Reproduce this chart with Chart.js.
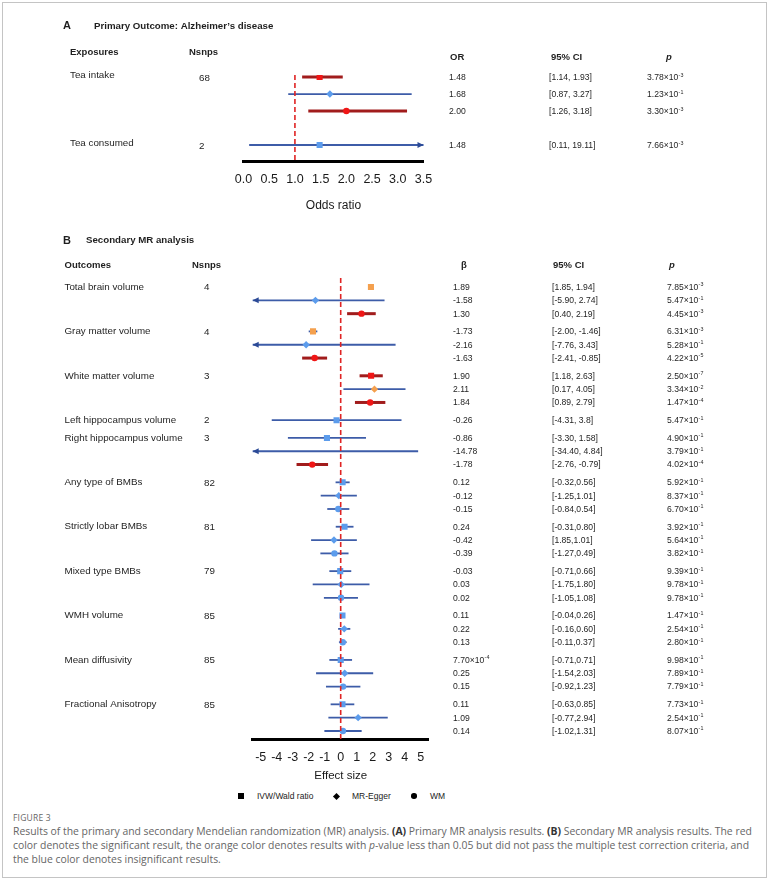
<!DOCTYPE html>
<html>
<head>
<meta charset="utf-8">
<script src="https://cdn.jsdelivr.net/npm/chart.js@4.4.1/dist/chart.umd.min.js"></script>
<style>
  body { margin: 0; width: 769px; height: 883px; position: relative; overflow: hidden; background: #fff;
         font-family: "Liberation Sans", Arial, sans-serif; }
  .frame { position: absolute; left: 2px; top: 2px; width: 763px; height: 874px; border: 1px solid #c4c4c4; }
  canvas { position: absolute; left: 0; }
  #chartA { top: 0; }
  #chartB { top: 228px; }
  .leg { position: absolute; top: 796px; transform: translateY(-50%); font-size: 8.5px; color: #222; white-space: nowrap; }
  .mk { position: absolute; top: 796px; background: #000; }
  .figno { position: absolute; left: 13px; top: 812px; font-family: "Open Sans", sans-serif; font-size: 8.5px;
           color: #666; letter-spacing: 0.2px; }
  .cap { position: absolute; left: 13px; top: 824px; font-family: "Open Sans", sans-serif; font-size: 10.4px;
         line-height: 14px; color: #666; white-space: nowrap; }
  .cap b { color: #333; }
</style>
</head>
<body>
<div class="frame"></div>
<canvas id="chartA" width="769" height="216" style="width:769px;height:216px"></canvas>
<canvas id="chartB" width="769" height="557" style="width:769px;height:557px"></canvas>
<div id="legend"></div>
<div class="figno">FIGURE 3</div>
<div class="cap">Results of the primary and secondary Mendelian randomization (MR) analysis. <b>(A)</b> Primary MR analysis results. <b>(B)</b> Secondary MR analysis results. The red<br>color denotes the significant result, the orange color denotes results with <i>p</i>-value less than 0.05 but did not pass the multiple test correction criteria, and<br>the blue color denotes insignificant results.</div>

<script>
// methods, in the order of rows inside each group
const METHODS = ['IVW', 'Egger', 'WM'];
const methodNames = ['IVW/Wald ratio', 'MR-Egger', 'WM'];

// panel A: primary outcome, Alzheimer's disease
const exposures = ['Tea intake', 'Tea consumed'];
const exposureSnps = ['68', '2'];
const aGroup = [0, 0, 0, 1];
const aMethod = ['IVW', 'Egger', 'WM', 'IVW'];
const aOR = [1.48, 1.68, 2.00, 1.48];
const aLow = [1.14, 0.87, 1.26, 0.11];
const aHigh = [1.93, 3.27, 3.18, 19.11];
const aSig = ['sig', 'ns', 'sig', 'ns'];
const aORText = ['1.48', '1.68', '2.00', '1.48'];
const aCIText = ['[1.14, 1.93]', '[0.87, 3.27]', '[1.26, 3.18]', '[0.11, 19.11]'];
const aPText = ['3.78×10^-3', '1.23×10^-1', '3.30×10^-3', '7.66×10^-3'];
const orTicks = [0, 0.5, 1, 1.5, 2, 2.5, 3, 3.5];

// panel B: secondary MR analysis
const outcomes = ['Total brain volume', 'Gray matter volume', 'White matter volume', 'Left hippocampus volume',
  'Right hippocampus volume', 'Any type of BMBs', 'Strictly lobar BMBs', 'Mixed type BMBs', 'WMH volume',
  'Mean diffusivity', 'Fractional Anisotropy'];
const outcomeSnps = ['4', '4', '3', '2', '3', '82', '81', '79', '85', '85', '85'];
const bGroup = [0, 0, 0, 1, 1, 1, 2, 2, 2, 3, 4, 4, 4, 5, 5, 5, 6, 6, 6, 7, 7, 7, 8, 8, 8, 9, 9, 9, 10, 10, 10];
const bMethod = ['IVW', 'Egger', 'WM', 'IVW', 'Egger', 'WM', 'IVW', 'Egger', 'WM', 'IVW',
  'IVW', 'Egger', 'WM', 'IVW', 'Egger', 'WM', 'IVW', 'Egger', 'WM', 'IVW', 'Egger', 'WM',
  'IVW', 'Egger', 'WM', 'IVW', 'Egger', 'WM', 'IVW', 'Egger', 'WM'];
const bBeta = [1.89, -1.58, 1.30, -1.73, -2.16, -1.63, 1.90, 2.11, 1.84, -0.26,
  -0.86, -14.78, -1.78, 0.12, -0.12, -0.15, 0.24, -0.42, -0.39, -0.03, 0.03, 0.02,
  0.11, 0.22, 0.13, 0.00077, 0.25, 0.15, 0.11, 1.09, 0.14];
const bLow = [1.85, -5.90, 0.40, -2.00, -7.76, -2.41, 1.18, 0.17, 0.89, -4.31,
  -3.30, -34.40, -2.76, -0.32, -1.25, -0.84, -0.31, -1.85, -1.27, -0.71, -1.75, -1.05,
  -0.04, -0.16, -0.11, -0.71, -1.54, -0.92, -0.63, -0.77, -1.02];
const bHigh = [1.94, 2.74, 2.19, -1.46, 3.43, -0.85, 2.63, 4.05, 2.79, 3.8,
  1.58, 4.84, -0.79, 0.56, 1.01, 0.54, 0.80, 1.01, 0.49, 0.66, 1.80, 1.08,
  0.26, 0.60, 0.37, 0.71, 2.03, 1.23, 0.85, 2.94, 1.31];
const bSig = ['nom', 'ns', 'sig', 'nom', 'ns', 'sig', 'sig', 'nom', 'sig', 'ns',
  'ns', 'ns', 'sig', 'ns', 'ns', 'ns', 'ns', 'ns', 'ns', 'ns', 'ns', 'ns',
  'ns', 'ns', 'ns', 'ns', 'ns', 'ns', 'ns', 'ns', 'ns'];
const bBetaText = ['1.89', '-1.58', '1.30', '-1.73', '-2.16', '-1.63', '1.90', '2.11', '1.84', '-0.26',
  '-0.86', '-14.78', '-1.78', '0.12', '-0.12', '-0.15', '0.24', '-0.42', '-0.39', '-0.03', '0.03', '0.02',
  '0.11', '0.22', '0.13', '7.70×10^-4', '0.25', '0.15', '0.11', '1.09', '0.14'];
const bCIText = ['[1.85, 1.94]', '[-5.90, 2.74]', '[0.40, 2.19]', '[-2.00, -1.46]', '[-7.76, 3.43]', '[-2.41, -0.85]',
  '[1.18, 2.63]', '[0.17, 4.05]', '[0.89, 2.79]', '[-4.31, 3.8]', '[-3.30, 1.58]', '[-34.40, 4.84]', '[-2.76, -0.79]',
  '[-0.32,0.56]', '[-1.25,1.01]', '[-0.84,0.54]', '[-0.31,0.80]', '[1.85,1.01]', '[-1.27,0.49]',
  '[-0.71,0.66]', '[-1.75,1.80]', '[-1.05,1.08]', '[-0.04,0.26]', '[-0.16,0.60]', '[-0.11,0.37]',
  '[-0.71,0.71]', '[-1.54,2.03]', '[-0.92,1.23]', '[-0.63,0.85]', '[-0.77,2.94]', '[-1.02,1.31]'];
const bPText = ['7.85×10^-3', '5.47×10^-1', '4.45×10^-3', '6.31×10^-3', '5.28×10^-1', '4.22×10^-5',
  '2.50×10^-7', '3.34×10^-2', '1.47×10^-4', '5.47×10^-1', '4.90×10^-1', '3.79×10^-1', '4.02×10^-4',
  '5.92×10^-1', '8.37×10^-1', '6.70×10^-1', '3.92×10^-1', '5.64×10^-1', '3.82×10^-1',
  '9.39×10^-1', '9.78×10^-1', '9.78×10^-1', '1.47×10^-1', '2.54×10^-1', '2.80×10^-1',
  '9.98×10^-1', '7.89×10^-1', '7.79×10^-1', '7.73×10^-1', '2.54×10^-1', '8.07×10^-1'];
const effectTicks = [-5, -4, -3, -2, -1, 0, 1, 2, 3, 4, 5];

// styles
const FONT = '"Liberation Sans", Arial, sans-serif';
const TXT = '#1f1f1f';
const pointColour = { sig: '#f01616', nom: '#f4a04e', ns: '#5c9cec' };
const lineColour = { sig: '#a11c1c', nom: '#3d5ca8', ns: '#3d5ca8' };
const lineW = { sig: 3, nom: 1.8, ns: 1.8 };
const pointStyle = { IVW: 'rect', Egger: 'rectRot', WM: 'circle' };
const pointSize = { IVW: 4.3, Egger: 3.7, WM: 3.2 };

function rowPositions(groups, gap) {
  let prev = -1, p = -1;
  return groups.map(g => {
    p += 1 + (prev >= 0 && g !== prev ? gap : 0);
    prev = g;
    return p;
  });
}

function txt(ctx, s, x, y, size, opts = {}) {
  ctx.font = (opts.style || '') + ' ' + size + 'px ' + FONT;
  ctx.textAlign = opts.align || 'left';
  ctx.textBaseline = 'middle';
  ctx.fillStyle = opts.color || TXT;
  ctx.fillText(s, x, y);
}

// numbers like 3.78×10^-3 -> superscript exponent
function sciText(ctx, s, x, y, size) {
  const parts = s.split('^');
  txt(ctx, parts[0], x, y, size);
  if (parts.length > 1) {
    const w = ctx.measureText(parts[0]).width;
    txt(ctx, parts[1], x + w + 0.3, y - size * 0.3, size * 0.62);
  }
}

function arrowHead(ctx, x, y, dir, colour) {
  ctx.fillStyle = colour;
  ctx.beginPath();
  ctx.moveTo(x, y);
  ctx.lineTo(x - dir * 6, y - 3);
  ctx.lineTo(x - dir * 6, y + 3);
  ctx.closePath();
  ctx.fill();
}

function forestChart(canvasId, cfg) {
  const pos = rowPositions(cfg.group, cfg.gap);

  const datasets = METHODS.map((m, k) => {
    const idx = cfg.method.map((mm, i) => mm === m ? i : -1).filter(i => i >= 0);
    return {
      label: methodNames[k],
      data: idx.map(i => ({ x: cfg.est[i], y: pos[i] })),
      pointStyle: pointStyle[m],
      pointRadius: pointSize[m],
      pointBackgroundColor: idx.map(i => pointColour[cfg.sig[i]]),
      pointBorderWidth: 0
    };
  });

  const forest = {
    id: 'forest' + canvasId,
    beforeDatasetsDraw(chart) {
      const { ctx, scales: { x, y } } = chart;
      ctx.save();
      cfg.est.forEach((_, i) => {
        const py = y.getPixelForValue(pos[i]);
        const x1 = x.getPixelForValue(Math.max(cfg.low[i], x.min));
        const x2 = x.getPixelForValue(Math.min(cfg.high[i], x.max));
        ctx.strokeStyle = lineColour[cfg.sig[i]];
        ctx.lineWidth = lineW[cfg.sig[i]];
        ctx.beginPath();
        ctx.moveTo(x1, py);
        ctx.lineTo(x2, py);
        ctx.stroke();
        if (cfg.low[i] < x.min) arrowHead(ctx, x1, py, -1, '#2b4a96');
        if (cfg.high[i] > x.max) arrowHead(ctx, x2, py, 1, '#2b4a96');
      });
      ctx.restore();
    },
    afterDatasetsDraw(chart) {
      const { ctx, chartArea, scales: { x } } = chart;
      const px = x.getPixelForValue(cfg.ref);
      ctx.save();
      ctx.strokeStyle = '#e02424';
      ctx.lineWidth = 1.6;
      ctx.setLineDash([5, 3]);
      ctx.beginPath();
      ctx.moveTo(px, chartArea.top);
      ctx.lineTo(px, chartArea.bottom);
      ctx.stroke();
      ctx.restore();
    },
    afterDraw(chart) {
      const { ctx, scales: { y } } = chart;
      const c = cfg.cols;
      ctx.save();
      txt(ctx, cfg.letter, c.letter, c.titleY, 11, { style: 'bold' });
      txt(ctx, cfg.title, c.title, c.titleY, 9.7, { style: 'bold' });
      cfg.headers.forEach(h => txt(ctx, h.text, h.x, h.y, 9.5, { style: h.style || 'bold', align: h.align }));
      let prev = -1;
      cfg.est.forEach((_, i) => {
        const py = y.getPixelForValue(pos[i]);
        const g = cfg.group[i];
        if (g !== prev) {
          txt(ctx, cfg.labels[g], c.label, py + c.labelDy, 9.8);
          txt(ctx, cfg.snps[g], c.snps, py + c.valDy, 9.8);
          prev = g;
        }
        sciText(ctx, cfg.estText[i], c.est, py + c.valDy, 8.6);
        txt(ctx, cfg.ciText[i], c.ci, py + c.valDy, 8.6);
        sciText(ctx, cfg.pText[i], c.p, py + c.valDy, 8.6);
      });
      ctx.restore();
    }
  };

  return new Chart(document.getElementById(canvasId), {
    type: 'scatter',
    data: { datasets },
    plugins: [forest],
    options: {
      responsive: false,
      animation: false,
      events: [],
      layout: { padding: cfg.padding },
      plugins: { legend: { display: false }, tooltip: { enabled: false } },
      scales: {
        x: {
          type: 'linear',
          min: cfg.xMin,
          max: cfg.xMax,
          grid: { display: false },
          border: { display: true, color: '#000', width: 3 },
          afterBuildTicks: s => { s.ticks = cfg.ticks.map(v => ({ value: v })); },
          afterFit: s => { s.height = cfg.axisH; },
          ticks: {
            padding: cfg.tickPad,
            color: '#1a1a1a',
            font: { family: FONT, size: 12.5 },
            maxRotation: 0,
            callback: cfg.tickFmt
          },
          title: {
            display: true,
            text: cfg.axisTitle,
            color: '#1a1a1a',
            font: { family: FONT, size: cfg.titleSize },
            padding: { top: 0, bottom: cfg.titlePad }
          }
        },
        y: { type: 'linear', display: false, reverse: true, min: cfg.yMin, max: cfg.yMax }
      }
    }
  });
}

forestChart('chartA', {
  group: aGroup, method: aMethod, est: aOR, low: aLow, high: aHigh, sig: aSig,
  estText: aORText, ciText: aCIText, pText: aPText, labels: exposures, snps: exposureSnps,
  gap: 1, ref: 1, xMin: 0, xMax: 3.5, yMin: -0.12, yMax: 4.94, ticks: orTicks,
  tickFmt: v => v.toFixed(1), axisTitle: 'Odds ratio', titleSize: 12,
  padding: { left: 243.5, right: 345.5, top: 75, bottom: 0 },
  axisH: 55, tickPad: 3, titlePad: 3.5,
  letter: 'A', title: 'Primary Outcome: Alzheimer\u2019s disease',
  cols: { letter: 63, title: 94, titleY: 26, label: 70, labelDy: -2, snps: 199, est: 449, ci: 549, p: 647, valDy: 1 },
  headers: [
    { text: 'Exposures', x: 70, y: 52 }, { text: 'Nsnps', x: 189, y: 52 },
    { text: 'OR', x: 450, y: 57 }, { text: '95% CI', x: 551, y: 57 },
    { text: 'p', x: 666, y: 57, style: 'italic bold' }
  ]
});

forestChart('chartB', {
  group: bGroup, method: bMethod, est: bBeta, low: bLow, high: bHigh, sig: bSig,
  estText: bBetaText, ciText: bCIText, pText: bPText, labels: outcomes, snps: outcomeSnps,
  gap: 0.33, ref: 0, xMin: -5.5, xMax: 5.5, yMin: -0.675, yMax: 33.9, ticks: effectTicks,
  tickFmt: v => String(v), axisTitle: 'Effect size', titleSize: 11.5,
  padding: { left: 252.7, right: 340.3, top: 50, bottom: 0 },
  axisH: 46, tickPad: 3.5, titlePad: 2.5,
  letter: 'B', title: 'Secondary MR analysis',
  cols: { letter: 63, title: 86, titleY: 12.7, label: 64.5, labelDy: 0, snps: 204, est: 453, ci: 552, p: 667, valDy: 0.5 },
  headers: [
    { text: 'Outcomes', x: 64.5, y: 37 }, { text: 'Nsnps', x: 192, y: 37 },
    { text: '\u03b2', x: 464, y: 37, align: 'center' }, { text: '95% CI', x: 553, y: 37 },
    { text: 'p', x: 669, y: 37, style: 'italic bold' }
  ]
});

// legend under panel B (black markers)
const legendX = [241, 336, 414];
const legendEl = document.getElementById('legend');
methodNames.forEach((name, k) => {
  const mk = document.createElement('div');
  mk.className = 'mk';
  const s = METHODS[k] === 'Egger' ? 5 : 5.5;
  mk.style.width = s + 'px';
  mk.style.height = s + 'px';
  mk.style.left = (legendX[k] - s / 2) + 'px';
  mk.style.marginTop = (-s / 2) + 'px';
  if (METHODS[k] === 'Egger') mk.style.transform = 'rotate(45deg)';
  if (METHODS[k] === 'WM') mk.style.borderRadius = '50%';
  legendEl.appendChild(mk);
  const lab = document.createElement('div');
  lab.className = 'leg';
  lab.style.left = (legendX[k] + 16) + 'px';
  lab.textContent = name;
  legendEl.appendChild(lab);
});
</script>
</body>
</html>
